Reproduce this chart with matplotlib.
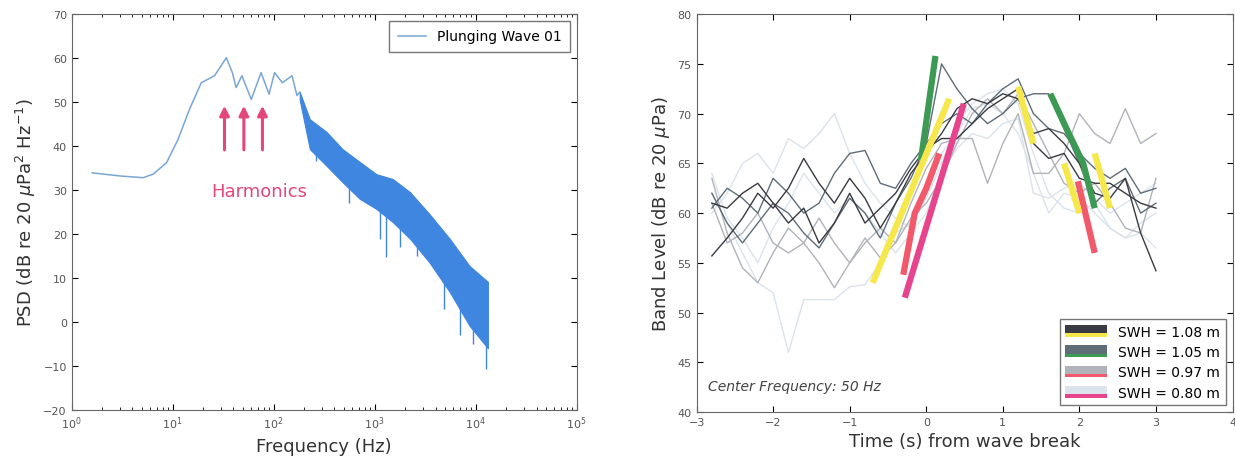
import numpy as np
import matplotlib
matplotlib.use("Agg")
import matplotlib.pyplot as plt
from matplotlib.legend_handler import HandlerBase
from matplotlib.patches import Rectangle

# ---- left panel: PSD of plunging wave ----
smooth_f = [1.6, 3.0, 5.1, 6.4, 8.7, 11.3, 14.7, 19.2, 26, 34, 39, 42.5, 48.5, 60, 75, 90,
            102, 122, 152, 170, 181]
smooth_db = [33.9, 33.2, 32.8, 33.6, 36.2, 41.5, 48.4, 54.4, 56.0, 60.1, 56.7, 53.3, 56.0,
             50.6, 56.7, 51.8, 56.7, 54.4, 56.0, 51.5, 52.3]
band_f = [181, 228, 334, 480, 710, 1040, 1510, 2240, 3490, 5530, 8700, 13200]
band_hi = [52.3, 46.1, 43.2, 39.3, 36.4, 33.6, 32.5, 29.5, 24.5, 18.9, 12.7, 9.1]
band_lo = [50.5, 39.3, 35.5, 31.8, 28.0, 25.7, 22.7, 18.9, 13.5, 6.8, -0.9, -6.0]
spike_f = [260, 560, 1120, 1306, 1780, 2600, 4800, 7000, 9360, 12700]
spike_db = [36.5, 27.0, 18.9, 14.7, 17.0, 15.0, 3.0, -3.0, -5.0, -10.7]
harm_f = [32.6, 50.7, 77.4]

# ---- right panel: 50 Hz band level around wave break ----
t = [-2.8, -2.6, -2.4, -2.2, -2.0, -1.8, -1.6, -1.4, -1.2, -1.0, -0.8, -0.6, -0.4, -0.2, 0.0,
     0.2, 0.4, 0.6, 0.8, 1.0, 1.2, 1.4, 1.6, 1.8, 2.0, 2.2, 2.4, 2.6, 2.8, 3.0]
traces = {
    "1.08": [
        [55.7, 57.5, 59.5, 62, 60.5, 62.5, 65.5, 63, 61, 63.5, 61.5, 58.5, 61, 64, 66, 68, 70.5,
         71.5, 71, 72, 71.5, 68, 68.5, 67, 65, 62, 61.5, 63.5, 58, 54.2],
        [61, 60.5, 62, 63, 61, 59, 60.5, 57, 59, 62, 59, 60.5, 62, 64.5, 66.5, 67.5, 67.5, 69,
         70.5, 71.5, 72.5, 67, 65.5, 66, 63.5, 63, 63, 62, 61, 60.5],
    ],
    "1.05": [
        [60.5, 62.5, 61.5, 60, 63.5, 62, 60, 61, 64, 66, 66.3, 63, 62.5, 65, 67, 69, 70, 69, 71,
         72.5, 73.5, 70, 68.5, 68, 66, 64.5, 63.5, 64.5, 62, 62.5],
        [62, 59, 57, 59, 61, 60, 58, 56.5, 59, 61.5, 60, 57.5, 61, 63.5, 67, 75, 72.5, 70.5, 69,
         70, 71.5, 72, 72, 68.5, 65, 61, 62.5, 63.5, 60, 61],
    ],
    "0.97": [
        [63.5, 58, 54.5, 53, 56, 58.5, 57, 55, 52.5, 55, 57.5, 55.5, 57, 59.5, 61, 63.5, 67, 70,
         71.5, 70, 72, 69, 66, 63, 62, 63, 61, 58.5, 58, 63.5],
        [61, 57, 58, 60, 57, 56, 57, 59.5, 57, 55, 57, 58.5, 57, 61, 64.5, 67, 67.5, 67.5, 63, 67,
         70, 64, 64, 66, 70, 68, 67, 70.5, 67, 68],
    ],
    "0.80": [
        [62, 59, 56, 53, 52, 46, 51.3, 51.3, 51.3, 52.6, 52.8, 55, 58, 59, 61.5, 65, 69, 71, 72,
         72.5, 71, 66, 62, 60.5, 60, 61, 58.5, 57.5, 58, 56.5],
        [64, 59.5, 57.5, 55, 58.5, 61, 64, 62, 60, 61.5, 60, 58, 56, 58, 60, 64, 66.5, 68, 67.5,
         69, 69.5, 62, 61.5, 62.5, 63, 61.5, 60, 61, 62, 63],
        [60, 62, 65, 66, 64, 67.5, 66.5, 68, 70, 66, 63, 61, 59.5, 58.5, 62, 66, 68, 70.5, 71, 70,
         68, 64, 60, 62, 61.5, 60, 58.5, 57.5, 59, 60],
    ],
}
# thick highlighted segments (time, level)
highlights = {
    "1.08": [[(-0.7, 53.0), (0.3, 71.5)], [(1.2, 72.7), (1.4, 67.0)],
             [(1.8, 65.0), (2.0, 60.0)], [(2.2, 66.0), (2.4, 60.5)]],
    "1.05": [[(-0.07, 65.3), (0.12, 75.8)],
             [(1.62, 72.0), (1.85, 68.2), (2.05, 65.0), (2.2, 60.5)]],
    "0.97": [[(-0.3, 53.8), (-0.15, 60.0), (0.0, 62.5), (0.17, 66.0)],
             [(1.98, 63.2), (2.2, 56.0)]],
    "0.80": [[(-0.28, 51.5), (0.49, 71.0)]],
}
line_col = {"1.08": "#3a3a42", "1.05": "#5f6d78", "0.97": "#b0b3ba", "0.80": "#dbe3ec"}
hl_col = {"1.08": "#f6e84a", "1.05": "#3d9a55", "0.97": "#f2596a", "0.80": "#e8448e"}
swh_labels = ["1.08", "1.05", "0.97", "0.80"]


class Pair:
    def __init__(self, top, bot):
        self.top, self.bot = top, bot


class PairHandler(HandlerBase):
    def create_artists(self, legend, h, xd, yd, w, ht, fs, trans):
        r1 = Rectangle((-xd, -yd + ht * 0.25), w, ht * 0.85, facecolor=h.top, edgecolor="none",
                       transform=trans)
        r2 = Rectangle((-xd, -yd - ht * 0.1), w, ht * 0.35, facecolor=h.bot, edgecolor="none",
                       transform=trans)
        return [r1, r2]


plt.rcParams["font.family"] = "DejaVu Sans"
fig = plt.figure(figsize=(12.35, 4.6), dpi=100)

ax = fig.add_axes([0.058, 0.107, 0.409, 0.86])
ax.fill_between(band_f, band_lo, band_hi, color="#3f86e0", lw=0.8, zorder=2)
ax.vlines(spike_f, np.interp(spike_f, band_f, band_lo), spike_db, color="#3f86e0", lw=1.0,
          zorder=2)
ax.plot(smooth_f, smooth_db, color="#7aa6d6", lw=1.1, zorder=3, label="Plunging Wave 01")
for f in harm_f:
    ax.annotate("", xy=(f, 49.8), xytext=(f, 38.5),
                arrowprops=dict(arrowstyle="-|>", color="#e5467c", lw=2.2, mutation_scale=14))
ax.text(72, 29.8, "Harmonics", color="#e5467c", fontsize=13, ha="center", va="center")
ax.set_xscale("log")
ax.set_xlim(1, 1e5)
ax.set_ylim(-20, 70)
ax.set_yticks(range(-20, 71, 10))
ax.set_xlabel("Frequency (Hz)", fontsize=13, color="#333")
ax.set_ylabel("PSD (dB re 20 $\\mu$Pa$^2$ Hz$^{-1}$)", fontsize=13, color="#333")
ax.legend(loc="upper right", fontsize=10, fancybox=False, edgecolor="#555", borderpad=0.6)

ax2 = fig.add_axes([0.564, 0.102, 0.434, 0.865])
for k in ["0.80", "0.97", "1.05", "1.08"]:
    for y in traces[k]:
        ax2.plot(t, y, color=line_col[k], lw=1.0, zorder=2)
for k in ["0.80", "0.97", "1.05", "1.08"]:
    for seg in highlights[k]:
        xs, ys = zip(*seg)
        ax2.plot(xs, ys, color=hl_col[k], lw=4.5, solid_capstyle="butt", zorder=3)
ax2.text(-2.85, 42.2, "Center Frequency: 50 Hz", fontsize=10, color="#444", style="italic")
ax2.set_xlim(-3, 4)
ax2.set_ylim(40, 80)
ax2.set_xlabel("Time (s) from wave break", fontsize=13, color="#333")
ax2.set_ylabel("Band Level (dB re 20 $\\mu$Pa)", fontsize=13, color="#333")
handles = [Pair(line_col[k], hl_col[k]) for k in swh_labels]
labels = ["SWH = %s m" % k for k in swh_labels]
ax2.legend(handles, labels, handler_map={Pair: PairHandler()}, loc="lower right", fontsize=10,
           fancybox=False, edgecolor="#555", handlelength=3.0, labelspacing=0.45)

for a in (ax, ax2):
    a.tick_params(which="both", direction="in", top=True, right=True, labelsize=8,
                  labelcolor="#555")
    a.tick_params(which="major", length=4)
    a.tick_params(which="minor", length=2)
    for s in a.spines.values():
        s.set_color("#666")

fig.savefig("out.png", facecolor="white")
